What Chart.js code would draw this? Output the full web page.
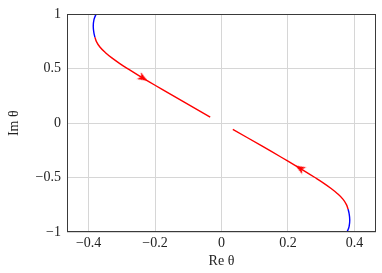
<!DOCTYPE html>
<html>
<head>
<meta charset="utf-8">
<script src="https://cdn.jsdelivr.net/npm/chart.js@4"></script>
<style>
  html, body { margin: 0; padding: 0; background: #fff; }
  #wrap { width: 382px; height: 273px; }
</style>
</head>
<body>
<div id="wrap"><canvas id="locus"></canvas></div>
<script>
// curve points [Re θ, Im θ]
const upperBlue = [[-0.378, 1.0], [-0.384, 0.95], [-0.386, 0.89], [-0.384, 0.83], [-0.381, 0.79]];
const upperRed = [[-0.381, 0.79], [-0.376, 0.748], [-0.366, 0.70], [-0.350, 0.65], [-0.330, 0.60],
                  [-0.306, 0.548], [-0.280, 0.497], [-0.250, 0.44], [-0.220, 0.385], [-0.180, 0.313],
                  [-0.120, 0.207], [-0.034, 0.056]];
const lowerRed = [[0.034, -0.056], [0.120, -0.207], [0.180, -0.313], [0.220, -0.385], [0.250, -0.44],
                  [0.280, -0.497], [0.306, -0.548], [0.330, -0.60], [0.350, -0.65], [0.366, -0.70],
                  [0.376, -0.748], [0.381, -0.79]];
const lowerBlue = [[0.381, -0.79], [0.384, -0.83], [0.386, -0.89], [0.384, -0.95], [0.378, -1.0]];
const arrowPoints = [[-0.236, 0.414], [0.236, -0.414]];

const xTicks = [-0.4, -0.2, 0, 0.2, 0.4];
const yTicks = [-1, -0.5, 0, 0.5, 1];

const toXY = pts => pts.map(p => ({ x: p[0], y: p[1] }));
const fmt = v => String(v).replace("-", "\u2212");
const serif = "'Liberation Serif', 'DejaVu Serif', serif";

// small stealth-like arrowhead, pointing right
function makeArrow() {
    const c = document.createElement("canvas");
    c.width = 11; c.height = 9;
    const g = c.getContext("2d");
    g.fillStyle = "#ff0000";
    g.beginPath();
    g.moveTo(10.5, 4.5);
    g.lineTo(0.5, 0.4);
    g.lineTo(3.2, 4.5);
    g.lineTo(0.5, 8.6);
    g.closePath();
    g.fill();
    return c;
}

const framePlugin = {
    id: "frame",
    afterDraw(chart) {
        const { ctx, chartArea: a } = chart;
        ctx.save();
        ctx.strokeStyle = "#3a3a3a";
        ctx.lineWidth = 1;
        ctx.strokeRect(Math.round(a.left) + 0.5, Math.round(a.top) + 0.5,
                       Math.round(a.right - a.left) - 1, Math.round(a.bottom - a.top) - 1);
        ctx.restore();
    }
};

function lineSet(pts, color) {
    return {
        data: toXY(pts),
        showLine: true,
        borderColor: color,
        backgroundColor: color,
        borderWidth: 1.4,
        pointRadius: 0,
        tension: 0.4,
        fill: false
    };
}

const arrow = makeArrow();

new Chart(document.getElementById("locus"), {
    type: "scatter",
    data: {
        datasets: [
            lineSet(upperBlue, "#0000ff"),
            lineSet(upperRed, "#ff0000"),
            lineSet(lowerRed, "#ff0000"),
            lineSet(lowerBlue, "#0000ff"),
            {
                data: toXY(arrowPoints),
                showLine: false,
                pointStyle: arrow,
                pointRadius: 5,
                pointRotation: [31, 211]
            }
        ]
    },
    plugins: [framePlugin],
    options: {
        responsive: true,
        maintainAspectRatio: false,
        animation: false,
        layout: { padding: { top: 11, right: 6, left: 0, bottom: 0 } },
        plugins: { legend: { display: false }, tooltip: { enabled: false } },
        scales: {
            x: {
                type: "linear",
                min: -0.465,
                max: 0.465,
                afterBuildTicks: s => { s.ticks = xTicks.map(v => ({ value: v })); },
                afterFit: s => { s.height = 41; },
                ticks: {
                    callback: v => fmt(v),
                    color: "#222",
                    font: { family: serif, size: 14 },
                    padding: 3,
                    maxRotation: 0
                },
                grid: { color: "#d6d6d6", lineWidth: 1, drawTicks: false },
                border: { display: false },
                title: {
                    display: true,
                    text: "Re \u03b8",
                    color: "#222",
                    font: { family: serif, size: 14 },
                    padding: { top: 0, bottom: 3 }
                }
            },
            y: {
                type: "linear",
                min: -1,
                max: 1,
                afterBuildTicks: s => { s.ticks = yTicks.map(v => ({ value: v })); },
                afterFit: s => { s.width = 67; },
                ticks: {
                    callback: v => fmt(v),
                    color: "#222",
                    font: { family: serif, size: 14 },
                    padding: 6
                },
                grid: { color: "#d6d6d6", lineWidth: 1, drawTicks: false },
                border: { display: false },
                title: {
                    display: true,
                    text: "Im \u03b8",
                    color: "#222",
                    font: { family: serif, size: 14 },
                    padding: { top: 6, bottom: 0 }
                }
            }
        }
    }
});
</script>
</body>
</html>
